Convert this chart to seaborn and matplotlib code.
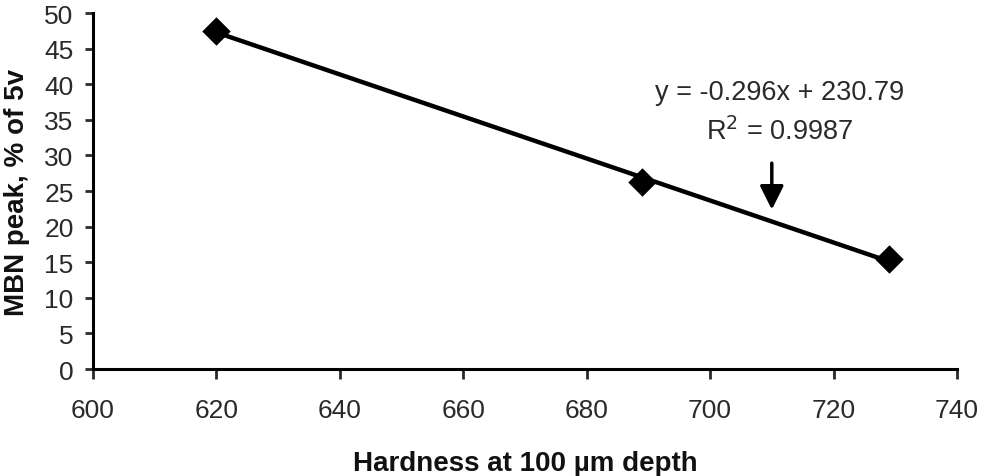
import matplotlib
matplotlib.use("Agg")
import matplotlib.pyplot as plt
import seaborn as sns
import numpy as np
import pandas as pd

hardness = [620, 689, 729]
mbn_peak = [47.5, 26.3, 15.5]
x_ticks = [600, 620, 640, 660, 680, 700, 720, 740]
y_ticks = [0, 5, 10, 15, 20, 25, 30, 35, 40, 45, 50]
eq_text = "y = -0.296x + 230.79"
r2_text = "R$^2$ = 0.9987"

sns.set_theme(style="ticks")
plt.rcParams['font.family'] = ['Liberation Sans', 'DejaVu Sans']

df = pd.DataFrame({"hardness": hardness, "mbn": mbn_peak})

fig = plt.figure(figsize=(9.84, 4.77), dpi=100)
ax = fig.add_axes([0.0945, 0.2243, 0.878, 0.7463])

sns.regplot(data=df, x="hardness", y="mbn", ax=ax, ci=None, truncate=True,
            marker="D", color="black",
            scatter_kws={"s": 210, "edgecolors": "black", "linewidths": 0, "zorder": 3, "alpha": 1},
            line_kws={"lw": 3.2, "color": "black"})

ax.set_xlim(600, 740)
ax.set_ylim(0, 50)
ax.set_xticks(x_ticks)
ax.set_yticks(y_ticks)
ax.tick_params(axis="both", labelsize=19, colors="#2a2a2a", width=2, direction="out")
ax.tick_params(axis="y", length=6, pad=8)
ax.tick_params(axis="x", length=7, pad=14)
for s in ["top", "right"]:
    ax.spines[s].set_visible(False)
for s in ["left", "bottom"]:
    ax.spines[s].set_linewidth(2.2)
    ax.spines[s].set_color("black")

ax.set_xlabel("Hardness at 100 µm depth", fontsize=20, fontweight="bold", labelpad=20, color="#111111")
ax.set_ylabel("MBN peak, % of 5v", fontsize=20, fontweight="bold", labelpad=10, color="#111111")

ax.text(711.3, 38.9, eq_text, ha="center", va="center", fontsize=19.5, color="#2a2a2a")
ax.text(711.3, 33.4, r2_text, ha="center", va="center", fontsize=19.5, color="#2a2a2a")
ax.annotate("", xy=(710, 22.0), xytext=(710, 29.3),
            arrowprops=dict(arrowstyle="-|>,head_width=0.6,head_length=1.2", color="black", lw=2.5))

fig.savefig("out.png", dpi=100)
